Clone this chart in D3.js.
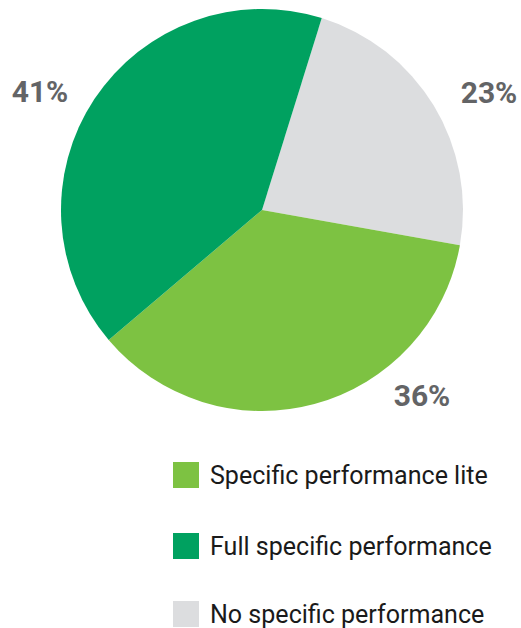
<!DOCTYPE html>
<html><head><meta charset="utf-8">
<script src="https://cdn.jsdelivr.net/npm/d3@7"></script>
<style>body{margin:0;background:#fff;} svg{display:block;}</style>
</head><body>
<svg id="c" width="521" height="628"></svg>
<script>
// Data
const categories = ["No specific performance", "Specific performance lite", "Full specific performance"];
const values = [23, 36, 41];
const colors = ["#dcdddf", "#7dc242", "#00a160"];
const legendOrder = ["Specific performance lite", "Full specific performance", "No specific performance"];

// Layout
const W = 521, H = 628, cx = 262, cy = 210, R = 201;
const startDeg = 17.3;
const labelPos = {
  "Full specific performance": [40, 91],
  "No specific performance": [489, 92],
  "Specific performance lite": [422, 395]
};

const svg = d3.select("#c");
const color = d3.scaleOrdinal().domain(categories).range(colors);
const data = categories.map((c, i) => ({cat: c, v: values[i]}));
const start = startDeg * Math.PI / 180;
const pie = d3.pie().value(d => d.v).sort(null).startAngle(start).endAngle(start + 2 * Math.PI);
const arc = d3.arc().innerRadius(0).outerRadius(R);
const g = svg.append("g").attr("transform", `translate(${cx},${cy})`);
g.selectAll("path").data(pie(data)).join("path")
  .attr("d", arc).attr("fill", d => color(d.data.cat));

svg.selectAll("text.lbl").data(data).join("text").attr("class", "lbl")
  .attr("x", d => labelPos[d.cat][0]).attr("y", d => labelPos[d.cat][1])
  .attr("text-anchor", "middle").attr("dominant-baseline", "central")
  .attr("font-family", "Roboto, sans-serif").attr("font-weight", "bold")
  .attr("font-size", 30).attr("fill", "#636466")
  .text(d => d.v + "%");

const lg = svg.append("g");
const rowY = [475, 546, 614];
const texts = [];
legendOrder.forEach((c, i) => {
  lg.append("rect").attr("x", 173).attr("y", rowY[i] - 13).attr("width", 26).attr("height", 26)
    .attr("fill", color(c));
  const t = lg.append("text").attr("x", 0).attr("y", 0)
    .attr("font-family", "Roboto, sans-serif").attr("font-size", 26).attr("fill", "#1a1a1a")
    .text(c);
  texts.push([t, rowY[i] + 9]);
});
const sx = 278 / texts[0][0].node().getComputedTextLength();
texts.forEach(([t, y]) => t.attr("transform", `translate(210,${y}) scale(${sx},1)`));
</script>
</body></html>
